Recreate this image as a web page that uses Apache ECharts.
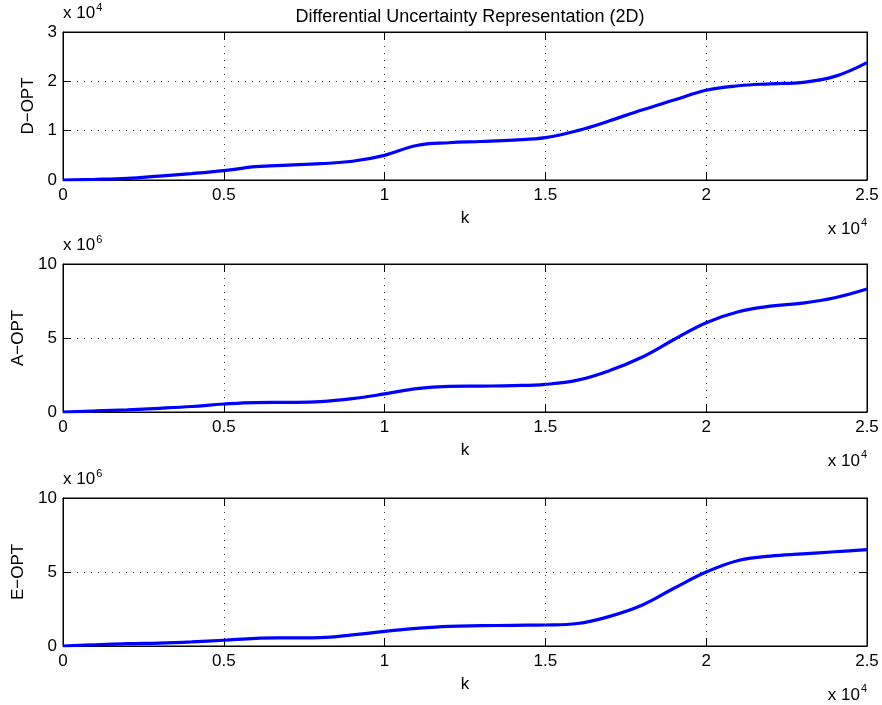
<!DOCTYPE html>
<html>
<head>
<meta charset="utf-8">
<script src="https://cdn.jsdelivr.net/npm/echarts@6/dist/echarts.min.js"></script>
<style>
  html, body { margin: 0; padding: 0; background: #fff; }
  #chart { width: 882px; height: 705px; }
</style>
</head>
<body>
<div id="chart"></div>
<script>
// k samples (real units, axis shows x 10^4)
var kValues = [0, 1000, 2000, 3000, 4000, 5000, 6000, 7000, 8000, 9000, 10000, 11000, 12000,
  13000, 14000, 15000, 16000, 17000, 18000, 19000, 20000, 21000, 22000, 23000, 24000, 25000];
// D-OPT in units of 10^4
var dOpt = [0, 0.012, 0.033, 0.08, 0.13, 0.19, 0.27, 0.30, 0.33, 0.38, 0.50, 0.70, 0.755,
  0.78, 0.81, 0.86, 1.0, 1.2, 1.42, 1.62, 1.82, 1.91, 1.95, 1.98, 2.10, 2.38];
// A-OPT in units of 10^6
var aOpt = [0, 0.07, 0.15, 0.25, 0.37, 0.54, 0.64, 0.65, 0.70, 0.90, 1.22, 1.58, 1.73,
  1.75, 1.78, 1.87, 2.15, 2.8, 3.7, 4.9, 6.03, 6.77, 7.15, 7.36, 7.72, 8.31];
// E-OPT in units of 10^6
var eOpt = [0, 0.08, 0.16, 0.20, 0.28, 0.39, 0.52, 0.55, 0.57, 0.75, 0.99, 1.19, 1.33,
  1.37, 1.40, 1.42, 1.52, 2.0, 2.75, 3.9, 5.0, 5.78, 6.07, 6.22, 6.37, 6.51];

var panelNames = ['D\u2212OPT', 'A\u2212OPT', 'E\u2212OPT'];
var panelData = [dOpt, aOpt, eOpt];
var yMax = [3, 10, 10];
var yStep = [1, 5, 5];
var yExp = ['4', '6', '6'];
var gridTops = [32, 264, 498];
var gridHeight = 148;
var ylabelX = [28, 18, 18];

var fontFam = '"Liberation Sans", Arial, Helvetica, sans-serif';
var fs = 17;
var chartDom = document.getElementById('chart');
var myChart = echarts.init(chartDom);
var option;

var grids = [], xAxes = [], yAxes = [], series = [], graphics = [];

function gridLine() {
  return { show: true, lineStyle: { color: '#333', width: 1, type: [1, 6] } };
}
function tick() {
  return { show: true, inside: true, length: 8, lineStyle: { color: '#000', width: 1 } };
}
function axLine() {
  return { show: true, onZero: false, lineStyle: { color: '#000', width: 1 } };
}

for (var i = 0; i < 3; i++) {
  grids.push({
    left: 63, right: 15, top: gridTops[i], height: gridHeight,
    show: true, borderColor: '#000', borderWidth: 1, backgroundColor: 'transparent'
  });
  // bottom x axis
  xAxes.push({
    type: 'value', gridIndex: i, position: 'bottom', min: 0, max: 25000, interval: 5000,
    name: 'k', nameLocation: 'middle', nameGap: 30,
    nameTextStyle: { fontFamily: fontFam, fontSize: fs, color: '#000', verticalAlign: 'top' },
    axisLine: axLine(),
    axisTick: tick(),
    axisLabel: {
      margin: 7, color: '#000', fontFamily: fontFam, fontSize: fs,
      formatter: function (v) { return String(v / 10000); }
    },
    splitLine: gridLine()
  });
  // top mirror
  xAxes.push({
    type: 'value', gridIndex: i, position: 'top', min: 0, max: 25000, interval: 5000,
    axisLine: axLine(),
    axisTick: tick(),
    axisLabel: { show: false },
    splitLine: { show: false }
  });
  // left y axis
  yAxes.push({
    type: 'value', gridIndex: i, position: 'left', min: 0, max: yMax[i], interval: yStep[i],
    name: 'x 10{sup|' + yExp[i] + '}', nameLocation: 'end', nameGap: 7,
    nameTextStyle: {
      fontFamily: fontFam, fontSize: fs, color: '#000', align: 'left',
      rich: { sup: { fontFamily: fontFam, fontSize: 11, color: '#000', padding: [0, 0, 12, 1] } }
    },
    axisLine: axLine(),
    axisTick: tick(),
    axisLabel: { margin: 6, color: '#000', fontFamily: fontFam, fontSize: fs },
    splitLine: gridLine()
  });
  // right mirror
  yAxes.push({
    type: 'value', gridIndex: i, position: 'right', min: 0, max: yMax[i], interval: yStep[i],
    axisLine: axLine(),
    axisTick: tick(),
    axisLabel: { show: false },
    splitLine: { show: false }
  });

  var pts = kValues.map(function (k, j) { return [k, panelData[i][j]]; });
  series.push({
    type: 'line', xAxisIndex: i * 2, yAxisIndex: i * 2, data: pts,
    smooth: 0.4, showSymbol: false, clip: true,
    lineStyle: { color: '#0000ff', width: 3.2 }
  });
  // empty series so the mirror axes get drawn
  series.push({
    type: 'line', xAxisIndex: i * 2 + 1, yAxisIndex: i * 2 + 1, data: [],
    showSymbol: false
  });

  graphics.push({
    type: 'text', x: ylabelX[i], y: gridTops[i] + gridHeight / 2, rotation: Math.PI / 2,
    style: {
      text: panelNames[i], fill: '#000', font: fs + 'px ' + fontFam,
      align: 'center', verticalAlign: 'middle'
    }
  });
  graphics.push({
    type: 'text', x: 867, y: gridTops[i] + gridHeight + 49,
    style: {
      text: 'x 10{sup|4}', fill: '#000', font: fs + 'px ' + fontFam,
      align: 'right', verticalAlign: 'middle',
      rich: { sup: { font: '11px ' + fontFam, fill: '#000', padding: [0, 0, 12, 1] } }
    }
  });
}

option = {
  animation: false,
  backgroundColor: '#fff',
  title: {
    text: 'Differential Uncertainty Representation (2D)',
    left: 465, top: 3, textAlign: 'center',
    textStyle: { fontFamily: fontFam, fontSize: 18, fontWeight: 'normal', color: '#000' }
  },
  grid: grids,
  xAxis: xAxes,
  yAxis: yAxes,
  series: series,
  graphic: graphics
};

option && myChart.setOption(option);
</script>
</body>
</html>
